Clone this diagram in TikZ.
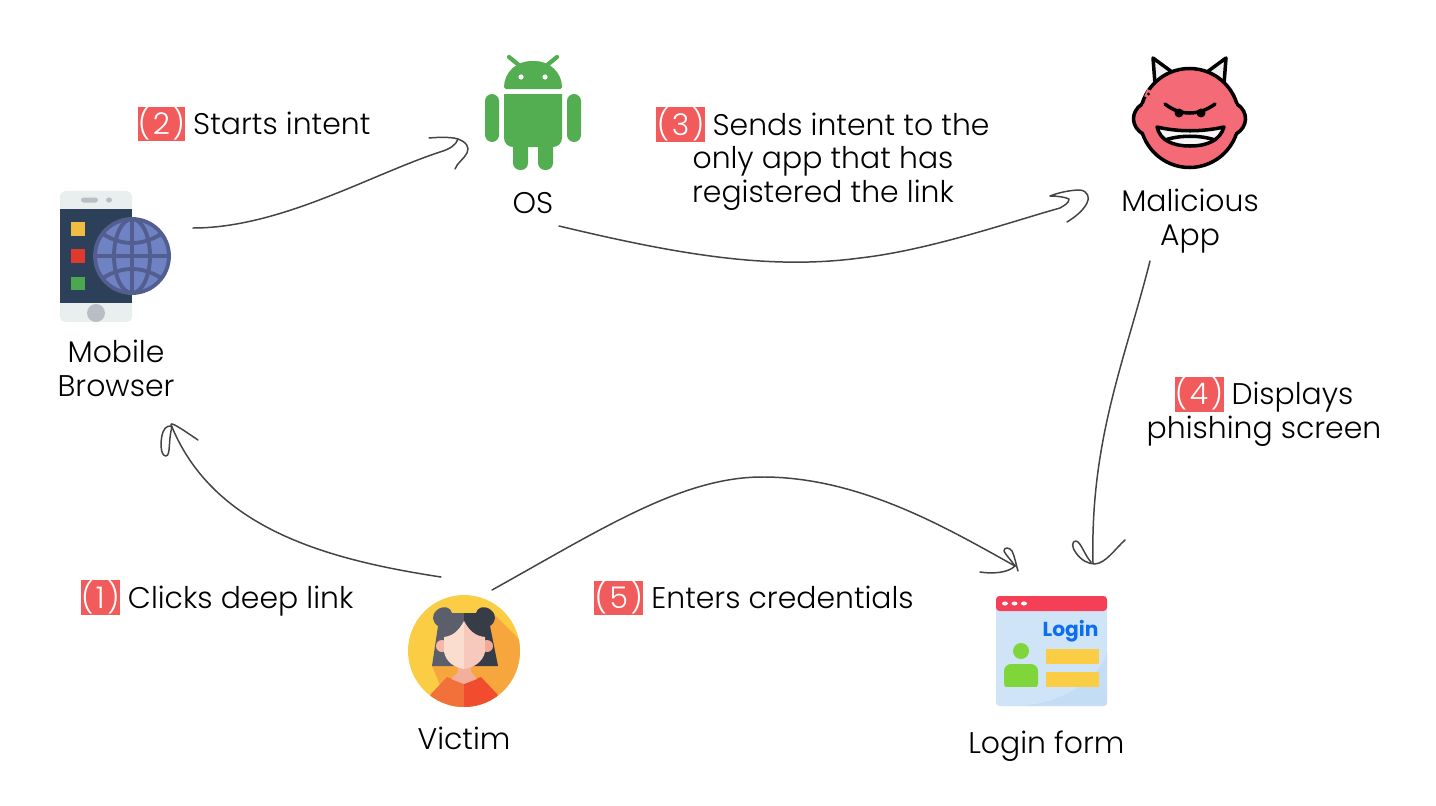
\documentclass[tikz,border=0pt]{standalone}
\usepackage{fontspec}
\setmainfont{Poppins}[UprightFont=* Light]
\newfontfamily\wordfont{Poppins}[UprightFont=* Bold]
\usetikzlibrary{positioning}
\definecolor{stepred}{HTML}{F15B5B}
\definecolor{sketchgray}{HTML}{444444}
\definecolor{droidgreen}{HTML}{52AE50}
\definecolor{phonelight}{HTML}{E9EEEE}
\definecolor{phonedark}{HTML}{2D4059}
\definecolor{phonekey}{HTML}{B9BEC6}
\definecolor{globeblue}{HTML}{6F82C4}
\definecolor{globeline}{HTML}{515E8F}
\definecolor{devilred}{HTML}{F46A76}
\definecolor{sunny}{HTML}{FBCD44}
\definecolor{shadeorange}{HTML}{F7A53D}
\definecolor{shirtleft}{HTML}{F2703A}
\definecolor{shirtright}{HTML}{F24C2F}
\definecolor{hairleft}{HTML}{5B5F6C}
\definecolor{hairright}{HTML}{363D47}
\definecolor{neckskin}{HTML}{F4AE9C}
\definecolor{earleft}{HTML}{F7B8A8}
\definecolor{earright}{HTML}{F2A897}
\definecolor{faceleft}{HTML}{FADDCF}
\definecolor{faceright}{HTML}{F7C9BC}
\definecolor{formblue}{HTML}{D0E4F7}
\definecolor{formshade}{HTML}{C3DDF5}
\definecolor{formred}{HTML}{F43F57}
\definecolor{formgreen}{HTML}{7ED63B}
\definecolor{wordblue}{HTML}{0D6EF0}
\definecolor{keyyellow}{HTML}{F0BC42}
\definecolor{keyred}{HTML}{E13A2D}
\definecolor{keygreen}{HTML}{4CA84F}
\newcommand{\stepmark}[1]{{\fboxsep=0pt\colorbox{stepred}{\textcolor{white}{\rule[-4pt]{0pt}{19.4pt}\hspace{0.2pt}(\hspace{1.4pt}#1\hspace{1.4pt})\hspace{0.2pt}}}}\hspace{4.5pt}}
\tikzset{
    iconbox/.style={inner sep=0pt, outer sep=0pt},
    caption/.style={inner sep=0pt, align=center, font=\fontsize{17}{19.3}\selectfont},
    sketchline/.style={draw=sketchgray, line width=0.85pt, line cap=round, line join=round},
    devilline/.style={draw=black, line width=2pt, line join=round, line cap=round},
}

\begin{document}
\begin{tikzpicture}[x=0.02cm,y=-0.02cm]
    \useasboundingbox (0,0) rectangle (1436,805);

    \node[iconbox, minimum width=2.24cm, minimum height=2.64cm] (browser) at (116,256) {};
    \node[iconbox, minimum width=1.92cm, minimum height=2.28cm] (os) at (533,113) {};
    \node[iconbox, minimum width=2.2cm, minimum height=2.2cm] (devil) at (1190,113) {};
    \node[iconbox, minimum width=2.24cm, minimum height=2.24cm] (victim) at (464,651) {};
    \node[iconbox, minimum width=2.22cm, minimum height=2.2cm] (login) at (1051.5,651) {};

    % mobile browser
    \fill[phonelight, rounded corners=3pt] (60,191) rectangle (132,322);
    \fill[phonedark] (60,209) rectangle (132,303);
    \fill[phonekey, rounded corners=1.5pt] (81,197.5) rectangle (98,202.5);
    \fill[phonekey, rounded corners=1.5pt] (106,197.5) rectangle (112,202.5);
    \fill[phonekey] (96,313) circle (9);
    \fill[keyyellow] (71,222) rectangle (85,236);
    \fill[keyred] (71,249) rectangle (85,263);
    \fill[keygreen] (71,277) rectangle (85,290);
    \begin{scope}[draw=globeline, line width=2.2pt]
        \filldraw[fill=globeblue] (132,256) circle (37);
        \draw (132,219) -- (132,293);
        \draw (95,256) -- (169,256);
        \draw (132,256) ellipse (18 and 37);
        \draw (103,234) .. controls (122,246) and (142,246) .. (161,234);
        \draw (103,278) .. controls (122,266) and (142,266) .. (161,278);
    \end{scope}

    % android
    \begin{scope}[droidgreen]
        \draw[line width=2.4pt, line cap=round] (509,57) -- (520,66);
        \draw[line width=2.4pt, line cap=round] (557,57) -- (546,66);
        \fill[rounded corners=1pt] (504,89) .. controls (504,72) and (517,61) .. (533,61)
            .. controls (549,61) and (562,72) .. (562,89) -- cycle;
        \fill (504,94) -- (562,94) -- (562,138) .. controls (562,143) and (558,147) .. (553,147)
            -- (513,147) .. controls (508,147) and (504,143) .. (504,138) -- cycle;
        \fill[rounded corners=4pt] (485,94) rectangle (499,142);
        \fill[rounded corners=4pt] (567,94) rectangle (581,142);
        \fill[rounded corners=4pt] (513,140) rectangle (528,170);
        \fill[rounded corners=4pt] (538,140) rectangle (553,170);
        \fill[white] (521,77) circle (2.6);
        \fill[white] (545,77) circle (2.6);
    \end{scope}

    % devil
    \filldraw[devilline, fill=white!94!black] (1172,72) -- (1153,58) -- (1155,84) -- cycle;
    \filldraw[devilline, fill=white!94!black] (1207,72) -- (1226,58) -- (1224,84) -- cycle;
    \filldraw[devilline, fill=devilred] (1189.5,118) circle (49.5);
    \fill[devilred] (1142,104) .. controls (1130,112) and (1131,127) .. (1143,134) -- (1155,134) -- (1155,104) -- cycle;
    \fill[devilred] (1237,104) .. controls (1249,112) and (1248,127) .. (1236,134) -- (1224,134) -- (1224,104) -- cycle;
    \draw[devilline] (1142,104) .. controls (1130,112) and (1131,127) .. (1143,134);
    \draw[devilline] (1237,104) .. controls (1249,112) and (1248,127) .. (1236,134);
    \draw[devilred, line width=2.2pt] (1149,90) -- (1146,97);
    \fill[black] (1148.5,94) circle (1.6);
    \draw[devilline] (1165,104) .. controls (1180,116) and (1199,116) .. (1215,104);
    \fill[black] (1179,113) circle (4.5);
    \fill[black] (1201,113) circle (4.5);
    \filldraw[devilline, fill=white!96!black] (1157,127) .. controls (1178,132) and (1202,132) .. (1224,127)
        .. controls (1220,140) and (1208,146) .. (1190,146) .. controls (1172,146) and (1160,140) .. (1157,127) -- cycle;
    \draw[devilline] (1165,140) .. controls (1180,135) and (1200,135) .. (1215,140);

    % victim
    \fill[sunny] (464,651) circle (56);
    \begin{scope}
        \clip (464,651) circle (56);
        \fill[shadeorange] (495,615) -- (545,665) -- (545,720) -- (455,720) -- (432,666) -- cycle;
        \fill[shirtleft] (431,694) -- (447,677) -- (464,683) -- (464,720) -- (420,720) -- cycle;
        \fill[shirtright] (497,694) -- (481,677) -- (464,683) -- (464,720) -- (508,720) -- cycle;
    \end{scope}
    \fill[hairleft] (464,613) -- (452,613) .. controls (451,607) and (443,605) .. (437,610)
        .. controls (431,615) and (432,622) .. (438,626) -- (432,666) -- (464,666) -- cycle;
    \fill[hairright] (464,613) -- (476,613) .. controls (477,607) and (485,605) .. (491,610)
        .. controls (497,615) and (496,622) .. (490,626) -- (498,666) -- (464,666) -- cycle;
    \fill[neckskin] (458,662) -- (471,662) -- (471,672) -- (477,679) -- (464,684) -- (451,679) -- (458,672) -- cycle;
    \fill[earleft] (442,646) circle (6);
    \fill[earright] (487,646) circle (6);
    \fill[faceleft] (464,621) .. controls (458,632) and (452,636) .. (444,637) -- (444,652)
        .. controls (446,662) and (455,668) .. (464,669) -- cycle;
    \fill[faceright] (464,621) .. controls (470,632) and (476,636) .. (485,637) -- (485,652)
        .. controls (483,662) and (473,668) .. (464,669) -- cycle;

    % login form
    \fill[formblue, rounded corners=2pt] (996,596) rectangle (1107,706);
    \fill[formshade, rounded corners=2pt] (1107,650) .. controls (1100,680) and (1060,703) .. (1020,706) -- (1107,706) -- cycle;
    \fill[formred, rounded corners=2pt] (996,611) -- (996,596) -- (1107,596) -- (1107,611) -- cycle;
    \fill[white] (1005,603.5) ellipse (3 and 2);
    \fill[white] (1014.5,603.5) ellipse (3 and 2);
    \fill[white] (1024,603.5) ellipse (3 and 2);
    \fill[formgreen] (1021,651) circle (8);
    \fill[formgreen, rounded corners=4pt] (1004,690) -- (1004,664) -- (1038,664) -- (1038,690) -- cycle;
    \fill[formblue] (1000,687) rectangle (1042,692);
    \fill[sunny] (1046,649) rectangle (1099,664);
    \fill[sunny] (1046,672) rectangle (1099,687);
    \node[inner sep=0pt, text=wordblue, font=\wordfont\fontsize{11.5}{12}\selectfont] (loginword) at (1070.5,631) {Login};

    % captions
    \node[caption, below=10pt of browser] (browsertext) {Mobile\\Browser};
    \node[caption, below=12.3pt of os] (ostext) {OS};
    \node[caption, below=11.7pt of devil] (deviltext) {Malicious\\App};
    \node[caption, below=11.1pt of victim] (victimtext) {Victim};
    \node[caption, below=14pt of login, xshift=-2.9pt] (logintext) {Login form};

    % steps
    \node[caption] (stepone) at (217,598) {\stepmark{1}Clicks deep link};
    \node[caption] (steptwo) at (254,124) {\stepmark{2}Starts intent};
    \node[caption] (stepthree) at (823,159) {\stepmark{3}Sends intent to the\\only app that has\\registered the link};
    \node[caption] (stepfour) at (1264,412) {\stepmark{4}Displays\\phishing screen};
    \node[caption] (stepfive) at (754,598) {\stepmark{5}Enters credentials};

    % connectors
    \draw[sketchline] ([shift={(-23,-18)}]victim.north) .. controls (330,560) and (215,530) .. ([shift={(56,105)}]browser.south)
        .. controls (168,420) and (176,425) .. (198,440);
    \draw[sketchline] (172,427) .. controls (168,440) and (171,455) .. (166,456)
        .. controls (160,456) and (160,440) .. (163,432) .. controls (165,426) and (170,425) .. (172,427);
    \draw[sketchline] ([shift={(21,-28)}]browser.east) .. controls (280,228) and (370,175) .. (440,152)
        .. controls (450,149) and (456,145) .. ([shift={(-27,26)}]os.west);
    \draw[sketchline] (429,138) .. controls (440,137) and (452,137) .. (458,139)
        .. controls (466,142) and (470,147) .. (467,153) .. controls (464,159) and (457,163) .. (455,169);
    \draw[sketchline] ([shift={(26,56)}]os.south) .. controls (680,255) and (770,270) .. (860,258)
        .. controls (930,250) and (1010,222) .. (1060,208) .. controls (1065,205) and (1069,203) .. ([shift={(-66,86)}]devil.west)
        .. controls (1065,197) and (1057,196) .. (1050,196) .. controls (1060,192) and (1072,190) .. (1080,190)
        .. controls (1088,191) and (1090,198) .. (1087,203) .. controls (1083,211) and (1075,217) .. (1067,222);
    \draw[sketchline] ([shift={(-40,93)}]devil.south) .. controls (1125,360) and (1090,440) .. ([shift={(41.5,-33)}]login.north);
    \draw[sketchline] (1091,562) .. controls (1085,556) and (1081,542) .. (1076,541)
        .. controls (1071,541) and (1072,548) .. (1076,553) .. controls (1081,560) and (1088,564) .. (1095,564)
        .. controls (1106,563) and (1115,549) .. (1125,540);
    \draw[sketchline] ([shift={(28,-5)}]victim.north) .. controls (600,530) and (680,478) .. (760,477)
        .. controls (860,476) and (950,530) .. ([shift={(-36.5,-30)}]login.north);
    \draw[sketchline] (1015,566) .. controls (1011,560) and (1005,554) .. (1004,551)
        .. controls (1004,547) and (1009,547) .. (1012,551) .. controls (1015,557) and (1016,565) .. (1018,571);
    \draw[sketchline] (1015,566) .. controls (1008,573) and (992,574) .. (980,572);
\end{tikzpicture}
\end{document}
